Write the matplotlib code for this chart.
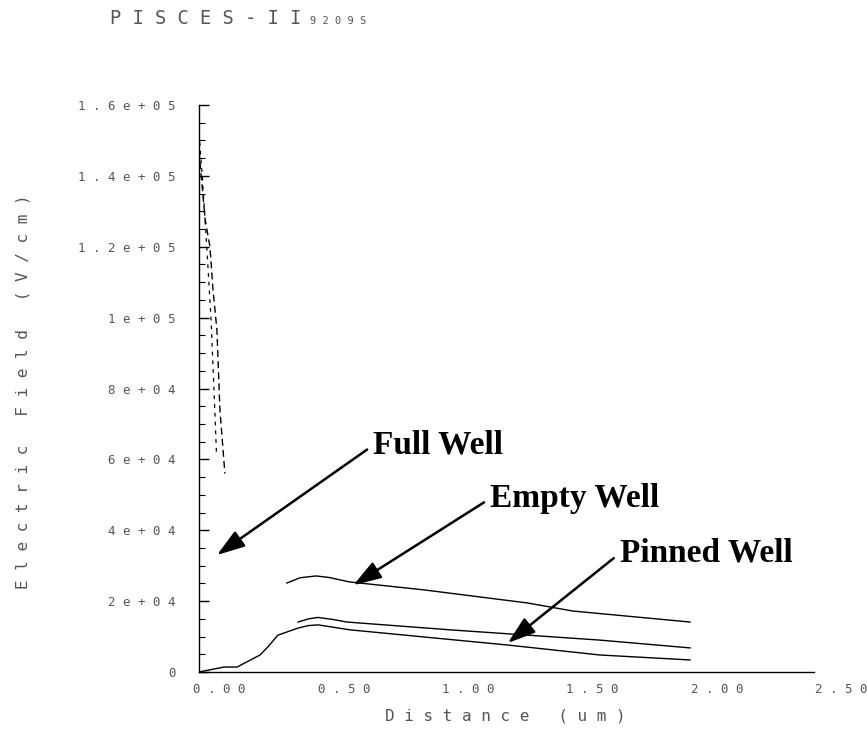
import matplotlib
matplotlib.use("Agg")
import matplotlib.pyplot as plt
import matplotlib.transforms as mtransforms
from matplotlib.ticker import MultipleLocator

# values (distance in um, field in V/cm)
empty_x = [0.353, 0.406, 0.470, 0.520, 0.606, 0.90, 1.317, 1.502, 1.972]
empty_y = [25100, 26600, 27100, 26700, 25400, 23200, 19500, 17200, 14100]

pinned_x = [0.398, 0.440, 0.478, 0.540, 0.594, 1.008, 1.610, 1.972]
pinned_y = [14100, 15000, 15400, 14800, 14100, 11900, 9000, 6800]

full_x = [0.0, 0.10, 0.153, 0.245, 0.277, 0.317, 0.398, 0.440, 0.478, 0.606, 1.241, 1.610, 1.972]
full_y = [0, 1400, 1400, 4800, 7100, 10400, 12400, 13100, 13300, 11900, 7600, 4800, 3400]

# the full-well spike right at the surface (fades out in the scan)
spike_x = [0.0, 0.024, 0.044, 0.056, 0.072, 0.084, 0.104]
spike_y = [147000, 128000, 120000, 108000, 96500, 74000, 56000]
spike2_x = [0.0, 0.012, 0.032, 0.048, 0.060, 0.070]
spike2_y = [152000, 141000, 119000, 100000, 80000, 62000]

xticks = [0, 0.5, 1.0, 1.5, 2.0, 2.5]
xtick_labels = ["0.00", "0.50", "1.00", "1.50", "2.00", "2.50"]
yticks = [0, 2e4, 4e4, 6e4, 8e4, 1e5, 1.2e5, 1.4e5, 1.6e5]
ytick_labels = ["0", "2e+04", "4e+04", "6e+04", "8e+04", "1e+05", "1.2e+05", "1.4e+05", "1.6e+05"]

# (text, arrow tip x, arrow tip y, text x, text y) in data coords
notes = [
    ("Full Well", 0.072, 33000, 0.70, 64000),
    ("Empty Well", 0.62, 24500, 1.17, 49000),
    ("Pinned Well", 1.24, 8200, 1.69, 33500),
]


def spaced(s):
    # plotter font look: wide letter spacing
    return " ".join(s)


W, H = 867, 731
fig = plt.figure(figsize=(W / 100, H / 100), dpi=100)
ax = fig.add_axes([199 / W, 1 - 672 / H, 2.6 * 249 / W, (672 - 105) / H])

ax.plot(empty_x, empty_y, color="black", lw=1.0)
ax.plot(pinned_x, pinned_y, color="black", lw=1.0)
ax.plot(full_x, full_y, color="black", lw=1.0)
ax.plot(spike_x, spike_y, color="black", lw=1.0, linestyle=(0, (5, 3)))
ax.plot(spike2_x, spike2_y, color="black", lw=0.9, linestyle=(0, (3, 4)))

ax.set_xlim(0, 2.6)
ax.set_ylim(0, 1.6e5)

for side in ["top", "right"]:
    ax.spines[side].set_visible(False)
ax.spines["bottom"].set_bounds(0, 2.47)
ax.spines["bottom"].set_linewidth(1.0)
ax.spines["left"].set_linewidth(1.0)

mono = "DejaVu Sans Mono"
grey = "#555555"

ax.set_xticks(xticks)
ax.set_xticklabels([spaced(t) for t in xtick_labels], fontsize=9, family=mono, color=grey)
ax.set_yticks(yticks)
ax.set_yticklabels([spaced(t) for t in ytick_labels], fontsize=9, family=mono, color=grey)
ax.yaxis.set_minor_locator(MultipleLocator(5000))
ax.tick_params(axis="x", length=0, pad=8)
ax.tick_params(axis="y", which="major", direction="in", length=7, width=1.0, pad=17)
ax.tick_params(axis="y", which="minor", direction="in", length=4, width=0.8)

shift = mtransforms.ScaledTranslation(-6 / 100, 0, fig.dpi_scale_trans)
for lab in ax.get_xticklabels():
    lab.set_horizontalalignment("left")
    lab.set_transform(lab.get_transform() + shift)

for txt, ax_, ay_, tx, ty in notes:
    ax.annotate(txt, xy=(ax_, ay_), xytext=(tx, ty),
                fontsize=24, fontweight="bold", family="Liberation Serif",
                ha="left", va="center",
                arrowprops=dict(arrowstyle="-|>,head_length=0.85,head_width=0.28",
                                mutation_scale=20, color="black", lw=1.8,
                                shrinkA=3, shrinkB=0, relpos=(0, 0.5)))

fig.text(110 / W, 1 - 24 / H, spaced("PISCES-II"), fontsize=13.5, family=mono,
         color=grey, ha="left", va="baseline")
fig.text(310 / W, 1 - 24 / H, spaced("9209S"), fontsize=7.5, family=mono, color=grey,
         ha="left", va="baseline")
fig.text(23 / W, 1 - 392 / H, spaced("Electric Field (V/cm)"), fontsize=11.5,
         family=mono, color=grey, rotation=90, ha="center", va="center")
fig.text(505 / W, 1 - 716 / H, spaced("Distance (um)"), fontsize=11.5,
         family=mono, color=grey, ha="center", va="center")

fig.savefig("out.png", dpi=100)
